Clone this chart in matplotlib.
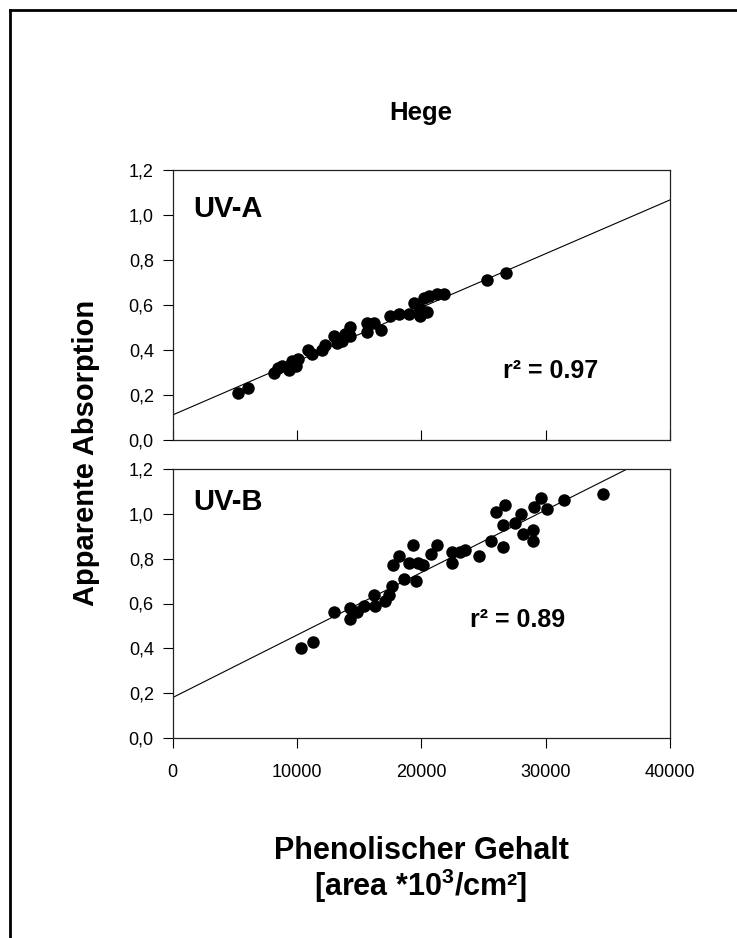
import matplotlib
matplotlib.use("Agg")
import numpy as np
import matplotlib.pyplot as plt
from matplotlib.lines import Line2D

plt.rcParams['font.family'] = ['Liberation Sans', 'DejaVu Sans']
plt.rcParams['mathtext.fontset'] = 'custom'
plt.rcParams['mathtext.rm'] = 'Liberation Sans'
plt.rcParams['mathtext.bf'] = 'Liberation Sans:bold'

# --- data ---
# UV-A panel: phenolic content vs apparent absorption
uva_x = [5300, 6100, 8200, 8500, 8800, 9400, 9600, 9900, 10100, 10900,
         11200, 12000, 12300, 12950, 13200, 13600, 13900, 14300, 14300, 15650,
         15650, 16200, 16800, 17500, 18200, 19000, 19400, 19900, 19900, 20500,
         20200, 20600, 21300, 21800, 25300, 26800]
uva_y = [0.21, 0.23, 0.30, 0.32, 0.33, 0.31, 0.35, 0.33, 0.36, 0.40,
         0.38, 0.40, 0.42, 0.46, 0.43, 0.44, 0.47, 0.50, 0.46, 0.52,
         0.48, 0.52, 0.49, 0.55, 0.56, 0.56, 0.61, 0.58, 0.55, 0.57,
         0.63, 0.64, 0.65, 0.65, 0.71, 0.74]

# UV-B panel
uvb_x = [10300, 11300, 13000, 14250, 14250, 14850, 15400, 16200, 16300, 17100,
         17400, 17650, 17750, 18200, 18600, 19000, 19300, 19550, 19700, 20150,
         20750, 21300, 22500, 22500, 23150, 23550, 24650, 25600, 26000, 26700,
         26550, 26550, 27500, 28000, 28150, 28950, 28950, 29100, 29650, 30100,
         31500, 34650]
uvb_y = [0.40, 0.43, 0.56, 0.58, 0.53, 0.56, 0.59, 0.64, 0.59, 0.61,
         0.64, 0.68, 0.77, 0.81, 0.71, 0.78, 0.86, 0.70, 0.78, 0.77,
         0.82, 0.86, 0.83, 0.78, 0.83, 0.84, 0.81, 0.88, 1.01, 1.04,
         0.95, 0.85, 0.96, 1.00, 0.91, 0.93, 0.88, 1.03, 1.07, 1.02,
         1.06, 1.09]

# regression lines (intercept, slope) as drawn in the reference
uva_fit = (0.111, 2.39e-5)
uvb_fit = (0.18, 2.79e-5)

panel_names = ["UV-A", "UV-B"]
r2_labels = ["r² = 0.97", "r² = 0.89"]
r2_pos = [(26600, 0.276), (23950, 0.496)]

x_ticks = [0, 10000, 20000, 30000, 40000]
y_ticks = [0.0, 0.2, 0.4, 0.6, 0.8, 1.0, 1.2]

W, H = 737, 938
fig = plt.figure(figsize=(W / 100, H / 100), dpi=100)

# outer frame (only top and left edges fall inside the image)
fig.add_artist(Line2D([10 / W, 10 / W], [0, 1 - 10 / H], color="black", lw=2))
fig.add_artist(Line2D([10 / W, 1], [1 - 10 / H, 1 - 10 / H], color="black", lw=2))

left, right = 172.5 / W, 670 / W
ax_top = fig.add_axes([left, 1 - 440 / H, right - left, 270 / H])
ax_bot = fig.add_axes([left, 1 - 738 / H, right - left, 269 / H])

datasets = [(uva_x, uva_y, uva_fit), (uvb_x, uvb_y, uvb_fit)]
for i, (ax, (xs, ys, fit)) in enumerate(zip([ax_top, ax_bot], datasets)):
    line_x = np.array([0, 40000])
    ax.plot(line_x, fit[0] + fit[1] * line_x, color="black", lw=0.8)
    ax.plot(xs, ys, "o", color="black", markersize=9, markeredgewidth=0)
    ax.set_xlim(0, 40000)
    ax.set_ylim(0, 1.2)
    ax.set_yticks(y_ticks)
    ax.set_yticklabels([f"{v:.1f}".replace(".", ",") for v in y_ticks])
    ax.set_xticks(x_ticks)
    ax.tick_params(axis="y", direction="out", length=7.5, width=0.8,
                   pad=6, labelsize=13)
    for sp in ax.spines.values():
        sp.set_linewidth(0.9)
        sp.set_color("#222222")
    ax.text(1650, [0.992, 1.017][i], panel_names[i], fontsize=21,
            fontweight="bold", ha="left", va="baseline")
    ax.text(r2_pos[i][0], r2_pos[i][1], r2_labels[i], fontsize=18,
            fontweight="bold", ha="left", va="baseline")

ax_top.tick_params(axis="x", direction="in", length=7.5, width=0.8,
                   labelbottom=False)
ax_bot.tick_params(axis="x", direction="out", length=7.5, width=0.8,
                   pad=11, labelsize=13)
ax_bot.set_xticklabels([str(v) for v in x_ticks])

fig.text(421 / W, 1 - 113 / H, "Hege", fontsize=18.5, fontweight="bold",
         ha="center", va="center")
fig.text(86 / W, 1 - 453 / H, "Apparente Absorption", fontsize=21,
         fontweight="bold", rotation=90, ha="center", va="center")
fig.text(421 / W, 1 - 851 / H, "Phenolischer Gehalt", fontsize=22,
         fontweight="bold", ha="center", va="center")
fig.text(421 / W, 1 - 886 / H, r"[area *10$^{\mathbf{3}}$/cm²]", fontsize=22,
         fontweight="bold", ha="center", va="center")

fig.savefig("out.png", dpi=100, facecolor="white")
